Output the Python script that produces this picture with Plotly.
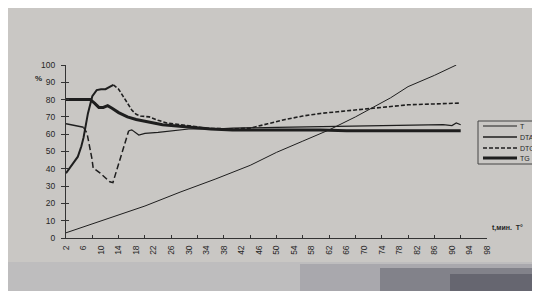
import plotly.graph_objects as go

# ---- data ----
x_ticks = list(range(2, 99, 4))
y_ticks = list(range(0, 101, 10))

t_x = [2, 10, 20, 28, 36, 44, 50, 56, 62, 68, 72, 76, 80, 86, 91]
t_y = [3, 10, 18.5, 26.5, 34, 42, 49.5, 56, 62.5, 70, 75.5, 81, 87.5, 94, 100]

dta_x = [2, 3, 4, 5, 6, 6.8, 7.9, 8.2, 9.8, 10.9, 12, 12.7, 14.3, 15.9, 16.3, 17, 18.6, 20, 23, 26, 30, 36, 40, 50, 60, 70, 80, 88, 90, 91, 92]
dta_y = [66, 65.5, 65, 64.5, 64, 60.5, 46, 40.5, 37.5, 35, 32.5, 32, 45, 58, 62, 62.5, 59.5, 60.5, 61, 62, 63, 63, 63.5, 64, 64.5, 65, 65.5, 65.5, 65, 66.5, 65.5]

dtg_x = [2, 3, 4, 4.7, 5.5, 6, 7, 8, 9, 10, 11, 12, 12.8, 14, 15, 16, 17, 18, 19, 21, 23, 25, 28, 30, 34, 40, 44, 48, 52, 56, 60, 64, 68, 72, 76, 80, 86, 92]
dtg_y = [37.5, 41, 45, 47, 53, 58, 72, 82, 85.5, 86, 86, 87.5, 88.5, 86, 82, 78, 74, 71.5, 70.5, 70, 68, 66.5, 65.5, 65, 63.5, 63, 63.5, 66, 68.5, 70.5, 72, 73, 74, 75, 76, 77, 77.5, 78]

tg_x = [2, 4, 6, 7.5, 8.5, 9.5, 10.5, 11.5, 12.5, 14, 16, 18, 20, 22, 24, 26, 28, 30, 35, 40, 50, 60, 66, 70, 80, 92]
tg_y = [80, 80, 80, 80, 78, 75.5, 75.5, 76.5, 75, 72.5, 70, 68.5, 67.5, 66.5, 65.5, 65, 64.5, 64, 63, 62.5, 62.5, 62.5, 62, 62, 62, 62]

series_names = ["T", "DTA", "DTG", "TG"]

# segment split indices (where the printed line changes dash style)
dta_dash_from, dta_dash_to = 4, 14
dtg_dash_from = 12

INK = "#1e1e1e"
FONT = "Liberation Sans"
TXT = "#262626"
STY = {
    "T": dict(color=INK, width=1),
    "DTA": dict(color=INK, width=1.5),
    "DTG": dict(color=INK, width=1.6, dash="4px,2px"),
    "TG": dict(color=INK, width=3),
}

fig = go.Figure()

fig.add_trace(go.Scatter(x=t_x, y=t_y, mode="lines", name="T", line=STY["T"]))
# DTA: solid / dashed / solid
fig.add_trace(go.Scatter(x=dta_x[:dta_dash_from + 1], y=dta_y[:dta_dash_from + 1], mode="lines",
                         name="DTA", line=STY["DTA"]))
fig.add_trace(go.Scatter(x=dta_x[dta_dash_from:dta_dash_to + 1], y=dta_y[dta_dash_from:dta_dash_to + 1],
                         mode="lines", name="DTA", line=dict(color=INK, width=1.5, dash="6px,3px")))
fig.add_trace(go.Scatter(x=dta_x[dta_dash_to:], y=dta_y[dta_dash_to:], mode="lines",
                         name="DTA", line=dict(color=INK, width=1.2)))
# DTG: solid rise, dashed afterwards
fig.add_trace(go.Scatter(x=dtg_x[:dtg_dash_from + 1], y=dtg_y[:dtg_dash_from + 1], mode="lines",
                         name="DTG", line=dict(color=INK, width=2)))
fig.add_trace(go.Scatter(x=dtg_x[dtg_dash_from:], y=dtg_y[dtg_dash_from:], mode="lines",
                         name="DTG", line=STY["DTG"]))
fig.add_trace(go.Scatter(x=tg_x, y=tg_y, mode="lines", name="TG", line=STY["TG"]))

# empty trace to carry the overlay tick axes
fig.add_trace(go.Scatter(x=[], y=[], xaxis="x2", yaxis="y2", showlegend=False, hoverinfo="skip"))

# page body has an 8px margin: figure starts at window (8, 8)
OFF = 8
W, H = 540 - OFF, 291 - OFF
L, R, T, B = 66 - OFF, 53, 65 - OFF, 53
pw, ph = W - L - R, H - T - B


def px(xw):
    return (xw - OFF - L) / pw


def py(yw):
    return (H - B - (yw - OFF)) / ph


shapes = [
    # darker lower band of the photo
    dict(type="rect", xref="paper", yref="paper", layer="below",
         x0=px(0), x1=px(560), y0=py(300), y1=py(262),
         fillcolor="#b4b4b7", opacity=0.5, line=dict(width=0)),
    dict(type="rect", xref="paper", yref="paper", layer="below",
         x0=px(300), x1=px(560), y0=py(300), y1=py(264),
         fillcolor="#8a8a94", opacity=0.4, line=dict(width=0)),
    dict(type="rect", xref="paper", yref="paper", layer="below",
         x0=px(380), x1=px(560), y0=py(300), y1=py(268),
         fillcolor="#5c5c68", opacity=0.5, line=dict(width=0)),
    dict(type="rect", xref="paper", yref="paper", layer="below",
         x0=px(450), x1=px(560), y0=py(300), y1=py(274),
         fillcolor="#4a4a56", opacity=0.5, line=dict(width=0)),
    # legend box
    dict(type="rect", xref="paper", yref="paper",
         x0=px(478), x1=px(560), y0=py(164), y1=py(121),
         fillcolor="rgba(0,0,0,0)", line=dict(color="#444", width=1)),
]
annotations = [
    dict(text="<b>%</b>", xref="paper", yref="paper", x=px(33), y=py(72),
         showarrow=False, font=dict(family=FONT, size=8, color=TXT)),
    dict(text="<b>t,мин.  T°</b>", xref="paper", yref="paper", x=px(490), y=py(234),
         xanchor="left", showarrow=False,
         font=dict(family=FONT, size=7, color=TXT)),
]
leg_rows = [126, 137, 148, 158]
for name, yw in zip(series_names, leg_rows):
    st = STY[name]
    shapes.append(dict(type="line", xref="paper", yref="paper",
                       x0=px(483), x1=px(517), y0=py(yw), y1=py(yw),
                       line=dict(color=st["color"], width=st["width"],
                                 dash=st.get("dash", "solid"))))
    annotations.append(dict(text=name, xref="paper", yref="paper", x=px(518), y=py(yw),
                            xanchor="left", yanchor="middle", showarrow=False,
                            font=dict(family=FONT, size=7, color=TXT)))

fig.update_layout(
    width=W, height=H,
    margin=dict(l=L, r=R, t=T, b=B, pad=0),
    paper_bgcolor="#c9c7c4",
    plot_bgcolor="rgba(0,0,0,0)",
    font=dict(family=FONT, size=8, color=TXT),
    showlegend=False,
    xaxis=dict(range=[2, 98], tickvals=x_ticks, ticktext=[str(v) for v in x_ticks],
               tickangle=-90, ticks="", showgrid=False, zeroline=False,
               showline=True, linecolor="#333", linewidth=1, ticklabelstandoff=3,
               tickfont=dict(family=FONT, size=8.5, color=TXT)),
    yaxis=dict(range=[0, 100], tickvals=y_ticks, ticks="outside", ticklen=4,
               tickcolor="#333", showgrid=False, zeroline=False,
               showline=True, linecolor="#333", linewidth=1, ticklabelstandoff=4,
               tickfont=dict(family=FONT, size=8.5, color=TXT)),
    xaxis2=dict(range=[2, 98], overlaying="x", anchor="y", side="bottom",
                tickvals=list(range(2, 99, 6)), showticklabels=False,
                ticks="inside", ticklen=3, tickcolor="#333", showgrid=False,
                zeroline=False, showline=False),
    yaxis2=dict(range=[0, 100], overlaying="y", anchor="x", side="left",
                tickvals=y_ticks, showticklabels=False, ticks="inside",
                ticklen=3, tickcolor="#333", showgrid=False, zeroline=False,
                showline=False),
    shapes=shapes,
    annotations=annotations,
)

fig.write_html("out.html")
